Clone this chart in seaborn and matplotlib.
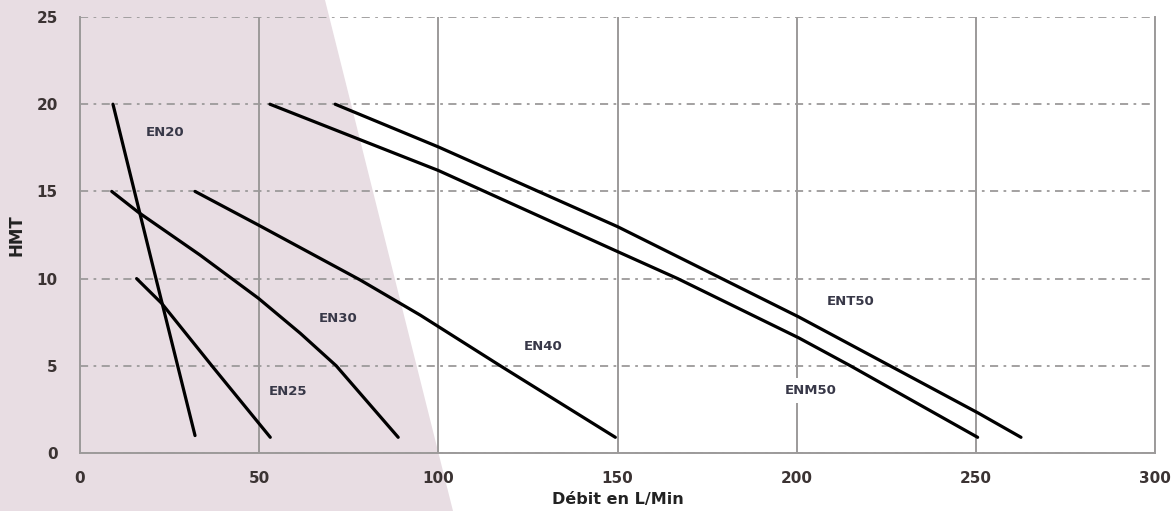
import matplotlib
matplotlib.use("Agg")
import matplotlib.pyplot as plt
from matplotlib.patches import Polygon
import seaborn as sns
import pandas as pd

# --- data ---
en20_x = [9.2, 20.6, 32.1]
en20_y = [20, 10.5, 1]

en25_x = [15.8, 22.8, 37.2, 53.1]
en25_y = [10, 8.58, 4.9, 0.9]

en30_x = [8.85, 16.3, 33.5, 49.8, 61.5, 71.5, 88.8]
en30_y = [15, 13.8, 11.35, 8.87, 6.86, 5.0, 0.9]

en40_x = [32.1, 49.8, 78.2, 95, 117.3, 149.4]
en40_y = [15, 13.07, 9.92, 7.9, 5.0, 0.9]

enm50_x = [53, 100, 150, 166.8, 200.6, 215, 250.5]
enm50_y = [20, 16.2, 11.55, 10.0, 6.6, 5, 0.9]

ent50_x = [71.2, 100, 150, 200.6, 250.6, 262.6]
ent50_y = [20, 17.55, 12.98, 7.8, 2.3, 0.9]

curve_names = ["EN20", "EN25", "EN30", "EN40", "ENM50", "ENT50"]
curve_xs = [en20_x, en25_x, en30_x, en40_x, enm50_x, ent50_x]
curve_ys = [en20_y, en25_y, en30_y, en40_y, enm50_y, ent50_y]

# label positions (data units)
label_text = ["EN20", "EN25", "EN30", "EN40", "ENM50", "ENT50"]
label_x = [23.7, 58, 72, 129.3, 204, 215]
label_y = [18.35, 3.55, 7.7, 6.1, 3.6, 8.7]

x_ticks = [0, 50, 100, 150, 200, 250, 300]
y_ticks = [0, 5, 10, 15, 20, 25]

# --- plotting ---
sns.set_theme(style="white")
plt.rcParams['font.family'] = ['DejaVu Sans']

pink = "#e8dde3"
grid_col = "#9c9a9a"
tick_col = "#3b3333"

fig = plt.figure(figsize=(11.76, 5.11), dpi=100)
fig.patch.set_facecolor("white")

# pink diagonal band in the background
W, H = 1176, 511
band = [(0, 0), (325, 0), (453, 511), (0, 511)]
band = [(px / W, 1 - py / H) for px, py in band]
fig.patches.append(Polygon(band, closed=True, transform=fig.transFigure,
                           facecolor=pink, edgecolor="none", zorder=-1))

ax = fig.add_axes([80 / W, 1 - 453 / H, (1155 - 80) / W, (453 - 17) / H])
ax.set_facecolor("none")

for name, xs, ys in zip(curve_names, curve_xs, curve_ys):
    df = pd.DataFrame({"x": xs, "y": ys})
    sns.lineplot(data=df, x="x", y="y", ax=ax, color="black",
                 linewidth=2.3, sort=False, estimator=None, zorder=3)

ax.set_xlim(0, 300)
ax.set_ylim(0, 25)
ax.set_xticks(x_ticks)
ax.set_yticks(y_ticks)
ax.set_axisbelow(True)

ax.xaxis.grid(True, color=grid_col, linewidth=1.4, linestyle="-")
ax.yaxis.grid(True, color=grid_col, linewidth=1.3,
              linestyle=(0, (4.5, 3, 1.5, 3)))

ax.spines["top"].set_visible(False)
for s in ["left", "bottom", "right"]:
    ax.spines[s].set_color(grid_col)
    ax.spines[s].set_linewidth(1.4)

ax.tick_params(axis="both", length=0, labelsize=11, labelcolor=tick_col)
ax.tick_params(axis="y", pad=16)
ax.tick_params(axis="x", pad=13)
for lbl in ax.get_xticklabels() + ax.get_yticklabels():
    lbl.set_fontweight("bold")

ax.set_xlabel("Débit en L/Min", fontsize=11.5, fontweight="bold",
              color="#222222", labelpad=4)
ax.set_ylabel("HMT", fontsize=12, fontweight="bold", color="#222222",
              labelpad=8)

# curve labels
for txt, lx, ly in zip(label_text, label_x, label_y):
    bg = pink if lx < 100 else "white"
    ax.text(lx, ly, txt, fontsize=9.5, fontweight="bold", color="#383848",
            ha="center", va="center", zorder=4,
            bbox=dict(boxstyle="square,pad=0.45", facecolor=bg,
                      edgecolor="none"))

plt.savefig("out.png", dpi=100)
